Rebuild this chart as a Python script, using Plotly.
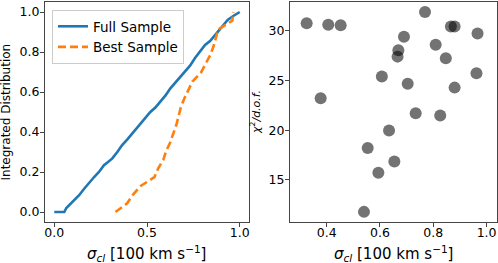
import plotly.graph_objects as go
from plotly.subplots import make_subplots

# Left panel: integrated distributions
full_x = [0.0, 0.054, 0.065, 0.08, 0.105, 0.134, 0.16, 0.1875, 0.215, 0.241, 0.268, 0.29, 0.313,
          0.34, 0.366, 0.393, 0.42, 0.447, 0.473, 0.5, 0.518, 0.545, 0.571, 0.6, 0.625, 0.65,
          0.668, 0.685, 0.705, 0.732, 0.759, 0.786, 0.813, 0.840, 0.866, 0.90, 0.935, 0.965, 1.0]
full_y = [0.0, 0.0, 0.02, 0.034, 0.055, 0.084, 0.115, 0.146, 0.175, 0.2, 0.234, 0.25, 0.268,
          0.3, 0.335, 0.362, 0.393, 0.423, 0.452, 0.48, 0.5, 0.522, 0.55, 0.583, 0.617, 0.645,
          0.665, 0.68, 0.705, 0.732, 0.770, 0.800, 0.835, 0.855, 0.885, 0.925, 0.96, 0.98, 1.0]

best_x = [0.330, 0.393, 0.425, 0.466, 0.540, 0.560, 0.588, 0.603, 0.625, 0.642, 0.658, 0.670,
          0.682, 0.700, 0.722, 0.745, 0.790, 0.815, 0.840, 0.858, 0.870, 0.884, 0.960, 0.966]
best_y = [i / 23 for i in range(24)]

# Right panel: chi2/dof vs sigma_cl
sig_cl = [0.325, 0.406, 0.4525, 0.769, 0.866, 0.880, 0.966, 0.690, 0.809, 0.669, 0.666, 0.847,
          0.962, 0.607, 0.704, 0.880, 0.3775, 0.734, 0.826, 0.634, 0.554, 0.654, 0.594, 0.540]
chi2_dof = [30.75, 30.6, 30.55, 31.9, 30.44, 30.44, 29.74, 29.4, 28.6, 28.05, 27.4, 27.24,
            25.72, 25.39, 24.68, 24.28, 23.2, 21.7, 21.48, 19.96, 18.2, 16.83, 15.71, 11.77]

left_xticks = [0, 0.5, 1.0]
left_yticks = [0, 0.2, 0.4, 0.6, 0.8, 1.0]
right_xticks = [0.4, 0.6, 0.8, 1.0]
right_yticks = [15, 20, 25, 30]

FONT = "DejaVu Sans"

fig = make_subplots(rows=1, cols=2, horizontal_spacing=0.09)

fig.add_trace(go.Scatter(x=full_x, y=full_y, mode="lines", name="Full Sample",
                         line=dict(color="#1f77b4", width=2.6)), row=1, col=1)
fig.add_trace(go.Scatter(x=best_x, y=best_y, mode="lines", name="Best Sample",
                         line=dict(color="#ff7f0e", width=2.6, dash="8px,4px")), row=1, col=1)
fig.add_trace(go.Scatter(x=sig_cl, y=chi2_dof, mode="markers", showlegend=False,
                         marker=dict(size=12, color="rgba(0,0,0,0.55)", line=dict(width=0))),
              row=1, col=2)

ax_common = dict(showline=True, linecolor="#444", linewidth=1, mirror=True, ticks="outside",
                 ticklen=4, tickcolor="#444", showgrid=False, zeroline=False, automargin=False,
                 tickfont=dict(family=FONT, size=12.5, color="black"))

fig.update_xaxes(**ax_common, domain=[0, 204 / 452], range=[-0.05, 1.05],
                 tickvals=left_xticks, tickformat=".1f", ticklabelstandoff=-5, row=1, col=1)
fig.update_yaxes(**ax_common, range=[-0.05, 1.05], tickvals=left_yticks,
                 tickformat=".1f", ticklabelstandoff=-2, row=1, col=1)
fig.update_xaxes(**ax_common, domain=[245 / 452, 1.0], range=[0.2625, 1.039],
                 tickvals=right_xticks, tickformat=".1f", ticklabelstandoff=-5, row=1, col=2)
fig.update_yaxes(**ax_common, range=[10.75, 32.9], tickvals=right_yticks,
                 ticklabelstandoff=-2, row=1, col=2)

xt = "<i>σ</i><sub><i>cl</i></sub> [100 km s<sup>−1</sup>]"
annots = [
    dict(text=xt, x=(146.7 - 45) / 452, y=(222 - 253.5) / 220, font_size=15),
    dict(text=xt, x=(393 - 45) / 452, y=(222 - 253.5) / 220, font_size=15),
    dict(text="Integrated Distribution", x=(5.5 - 45) / 452, y=0.5, font_size=12, textangle=-90),
    dict(text="<i>χ</i><sup>2</sup><i>/d.o.f.</i>", x=(255 - 45) / 452, y=0.5,
         font_size=11, textangle=-90),
]
for a in annots:
    fig.add_annotation(xref="paper", yref="paper", showarrow=False, xanchor="center",
                       yanchor="middle", font=dict(family=FONT, size=a.pop("font_size"),
                                                   color="black"), **a)

fig.update_layout(
    width=498, height=263,
    margin=dict(l=45, r=1, t=2, b=41, autoexpand=False),
    paper_bgcolor="white", plot_bgcolor="white",
    legend=dict(x=7 / 452, y=0.9636, xanchor="left", yanchor="top",
                bgcolor="rgba(255,255,255,0.8)", bordercolor="#cccccc", borderwidth=1,
                font=dict(family=FONT, size=13.5, color="black"),
                tracegroupgap=0, itemwidth=30),
    showlegend=True,
)

fig.write_html("out.html", config={"displayModeBar": False},
               post_script="document.body.style.margin='0';document.body.style.overflow='hidden';")
